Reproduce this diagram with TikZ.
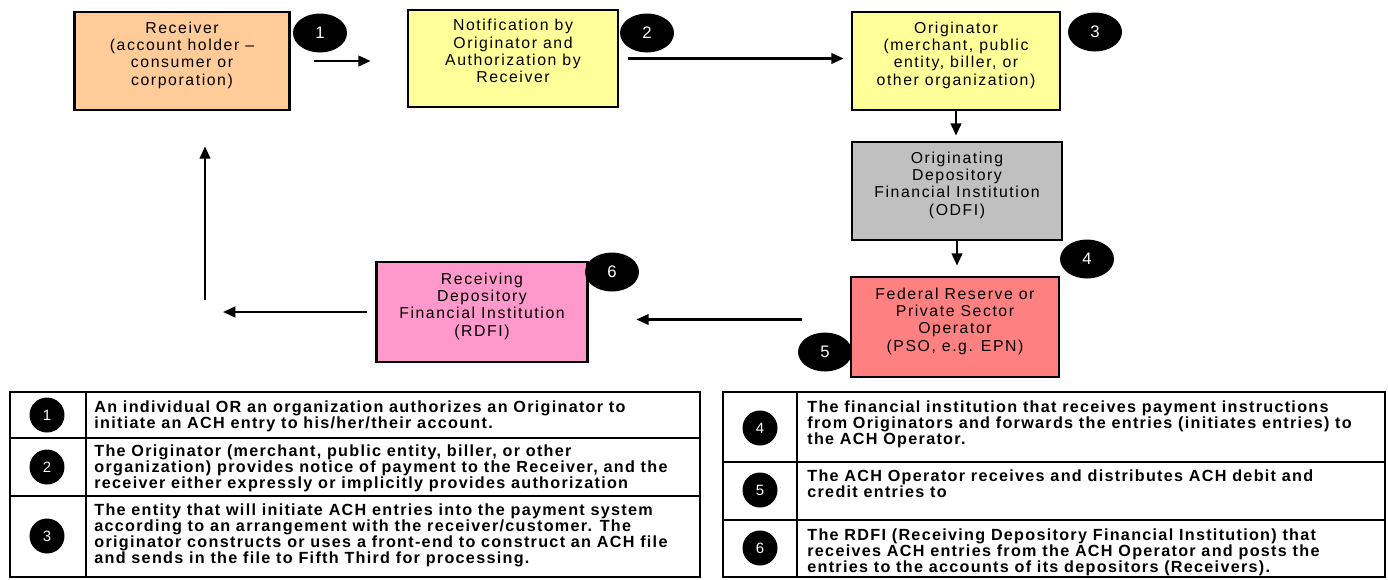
\documentclass[tikz,border=0pt]{standalone}
\usepackage{fontspec}
\setmainfont{Liberation Sans}
\newfontfamily\boxfont[LetterSpace=10]{Liberation Sans}
\newfontfamily\tabfont[LetterSpace=8]{Liberation Sans}
\usetikzlibrary{arrows.meta,positioning,calc,shapes.geometric}
\definecolor{recorange}{HTML}{FFCC99}
\definecolor{noteyellow}{HTML}{FFFF99}
\definecolor{odfigray}{HTML}{C0C0C0}
\definecolor{fedred}{HTML}{FF8080}
\definecolor{rdfipink}{HTML}{FF99CC}

\begin{document}
\begin{tikzpicture}[x=0.02cm,y=-0.02cm,
  box/.style={draw=black,line width=1.6pt,align=center,inner sep=2pt,
    font=\boxfont\fontsize{9}{9.8}\selectfont,text depth=8.5pt},
  badge/.style={ellipse,fill=black,text=white,minimum width=1.08cm,
    minimum height=0.78cm,inner sep=0pt,font=\fontsize{9.5}{10}\selectfont},
  tbadge/.style={ellipse,fill=black,text=white,minimum width=0.70cm,
    minimum height=0.70cm,inner sep=0pt,font=\fontsize{8.5}{9}\selectfont},
  flow/.style={-{Triangle[length=7pt,width=6pt]},line width=1.4pt},
  rowtext/.style={anchor=north west,inner sep=0pt,align=left,
    font=\tabfont\bfseries\fontsize{9.2}{9.1}\selectfont},
  tabframe/.style={line width=1.6pt},
  tabrule/.style={line width=0.6pt}]
\useasboundingbox (0,0) rectangle (1388,579);

% flow boxes
\node[box,fill=recorange,minimum width=4.30cm,minimum height=1.96cm] (rec) at (182,61)
  {Receiver\\(account holder –\\consumer or\\corporation)};
\node[box,fill=noteyellow,minimum width=4.20cm,minimum height=1.94cm] (notif) at (513,58.5)
  {Notification by\\Originator and\\Authorization by\\Receiver};
\node[box,fill=noteyellow,minimum width=4.16cm,minimum height=1.96cm] (orig) at (956,61)
  {Originator\\(merchant, public\\entity, biller, or\\other organization)};
\node[box,fill=odfigray,minimum width=4.20cm,minimum height=1.96cm] (odfi) at (957,191)
  {Originating\\Depository\\Financial Institution\\(ODFI)};
\node[box,fill=fedred,minimum width=4.16cm,minimum height=2.00cm] (fed) at (955,327)
  {Federal Reserve or\\Private Sector\\Operator\\(PSO, e.g. EPN)};
\node[box,fill=rdfipink,minimum width=4.22cm,minimum height=2.00cm] (rdfi) at (482,312)
  {Receiving\\Depository\\Financial Institution\\(RDFI)};

% step badges
\foreach \n/\bx/\by in {1/320/33,2/647/33,3/1095/32,4/1087/259,5/825/352,6/612/272}
  \node[badge] (b\n) at (\bx,\by) {\n};

% connectors
\coordinate (m5) at ($(fed.west)!0.5!(rdfi.east)$);
\coordinate (turn) at (205,316);
\draw[flow,shorten <=0.46cm,shorten >=0.72cm] (rec.east) -- (rec.east -| notif.west);
\draw[flow,shorten <=0.18cm,shorten >=0.14cm] (notif.east) -- (notif.east -| orig.west);
\draw[flow,shorten >=0.10cm] (orig.south) -- (orig.south |- odfi.north);
\draw[flow,shorten >=0.20cm] (odfi.south) -- (odfi.south |- fed.north);
\draw[flow,shorten <=0.96cm,shorten >=0.95cm] (m5 -| fed.west) -- (m5 -| rdfi.east);
\draw[flow,shorten <=0.17cm,shorten >=0.36cm] (rdfi.west) -- (rdfi.west -| turn);
\draw[flow,shorten <=0.32cm,shorten >=0.70cm] (turn) -- (turn |- rec.south);

% left legend table
\draw[tabframe] (10,392) rectangle (700,577);
\draw[tabrule] (86,392) -- (86,577) (10,438) -- (700,438) (10,496) -- (700,496);
\foreach \n/\ty in {1/415,2/467,3/536}
  \node[tbadge] (t\n) at (47,\ty) {\n};
\node[rowtext] (d1) at (94,400)
  {An individual OR an organization authorizes an Originator to\\initiate an ACH entry to his/her/their account.};
\node[rowtext] (d2) at (94,444)
  {The Originator (merchant, public entity, biller, or other\\organization) provides notice of payment to the Receiver, and the\\receiver either expressly or implicitly provides authorization};
\node[rowtext] (d3) at (94,503)
  {The entity that will initiate ACH entries into the payment system\\according to an arrangement with the receiver/customer. The\\originator constructs or uses a front-end to construct an ACH file\\and sends in the file to Fifth Third for processing.};

% right legend table
\draw[tabframe] (723,392) rectangle (1385,577);
\draw[tabrule] (797,392) -- (797,577) (723,462) -- (1385,462) (723,520) -- (1385,520);
\foreach \n/\ty in {4/428,5/490,6/548}
  \node[tbadge] (t\n) at (760,\ty) {\n};
\node[rowtext] (d4) at (807,400)
  {The financial institution that receives payment instructions\\from Originators and forwards the entries (initiates entries) to\\the ACH Operator.};
\node[rowtext] (d5) at (807,469)
  {The ACH Operator receives and distributes ACH debit and\\credit entries to};
\node[rowtext] (d6) at (807,528)
  {The RDFI (Receiving Depository Financial Institution) that\\receives ACH entries from the ACH Operator and posts the\\entries to the accounts of its depositors (Receivers).};
\end{tikzpicture}
\end{document}
